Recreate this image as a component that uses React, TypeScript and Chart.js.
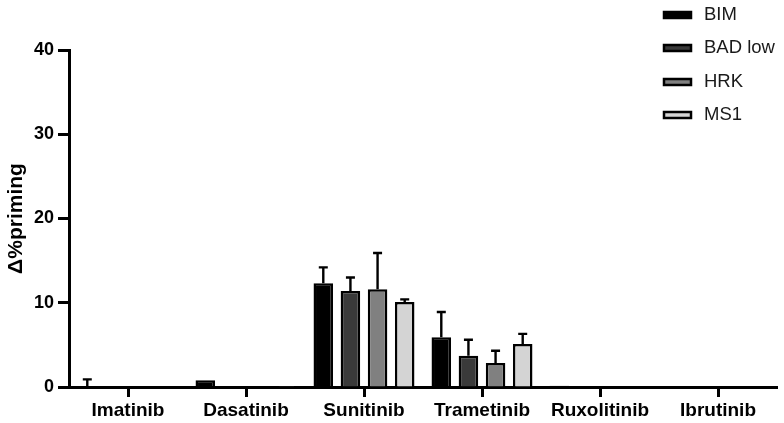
import React, { useEffect, useRef } from "react";
import { Chart, registerables } from "chart.js";

Chart.register(...registerables);

const categories = ["Imatinib", "Dasatinib", "Sunitinib", "Trametinib", "Ruxolitinib", "Ibrutinib"];
const seriesNames = ["BIM", "BAD low", "HRK", "MS1"];
const seriesColors = ["#000000", "#3a3a3a", "#808080", "#d4d4d4"];

const bimValues = [0, 0.8, 12.3, 5.9, 0.15, 0];
const badLowValues = [0, 0, 11.4, 3.7, 0, 0];
const hrkValues = [0, 0, 11.6, 2.85, 0, 0];
const ms1Values = [0, 0.1, 10.1, 5.1, 0, 0];

const bimErrors = [0.9, 0, 1.9, 3.0, 0, 0];
const badLowErrors = [0, 0, 1.6, 1.9, 0, 0];
const hrkErrors = [0, 0, 4.3, 1.45, 0, 0];
const ms1Errors = [0, 0, 0.3, 1.2, 0, 0];

const yTicks = [0, 10, 20, 30, 40];

const allValues = [bimValues, badLowValues, hrkValues, ms1Values];
const allErrors = [bimErrors, badLowErrors, hrkErrors, ms1Errors];

const FONT = "'Liberation Sans', Arial, sans-serif";

const errorBarPlugin = {
  id: "errorBars",
  afterDatasetsDraw(chart: any) {
    const ctx = chart.ctx;
    const yScale = chart.scales.y;
    ctx.save();
    ctx.strokeStyle = "#000";
    ctx.lineWidth = 2.4;
    chart.data.datasets.forEach((ds: any, i: number) => {
      const meta = chart.getDatasetMeta(i);
      const errs = allErrors[i];
      meta.data.forEach((bar: any, j: number) => {
        const e = errs[j];
        if (!e) return;
        const v = ds.data[j];
        const x = bar.x;
        const y0 = yScale.getPixelForValue(v);
        const y1 = yScale.getPixelForValue(v + e);
        const half = 4.5;
        ctx.beginPath();
        ctx.moveTo(x, y0);
        ctx.lineTo(x, y1);
        ctx.moveTo(x - half, y1);
        ctx.lineTo(x + half, y1);
        ctx.stroke();
      });
    });
    ctx.restore();
  },
};

const legendPlugin = {
  id: "customLegend",
  afterDraw(chart: any) {
    const ctx = chart.ctx;
    ctx.save();
    const boxX = 664;
    const boxW = 27;
    const boxH = 6;
    const rowYs = [15, 48, 82, 115];
    chart.data.datasets.forEach((ds: any, i: number) => {
      const cy = rowYs[i];
      ctx.fillStyle = ds.backgroundColor;
      ctx.fillRect(boxX, cy - boxH / 2, boxW, boxH);
      ctx.strokeStyle = "#000";
      ctx.lineWidth = 2.5;
      ctx.strokeRect(boxX, cy - boxH / 2, boxW, boxH);
      ctx.fillStyle = "#1a1a1a";
      ctx.font = `18.5px ${FONT}`;
      ctx.textBaseline = "middle";
      ctx.textAlign = "left";
      ctx.fillText(ds.label, 704, cy);
    });
    ctx.restore();
  },
};

export default function App() {
  const ref = useRef<HTMLCanvasElement>(null);
  useEffect(() => {
    if (!ref.current) return;
    const chart = new Chart(ref.current, {
      type: "bar",
      data: {
        labels: categories,
        datasets: seriesNames.map((name, i) => ({
          label: name,
          data: allValues[i],
          backgroundColor: seriesColors[i],
          borderColor: "#000",
          borderWidth: 2.5,
          borderSkipped: "start" as const,
          categoryPercentage: 0.92,
          barPercentage: 0.72,
        })),
      },
      options: {
        animation: false,
        responsive: false,
        maintainAspectRatio: false,
        layout: { padding: { top: 50, right: 7, left: 0, bottom: 0 } },
        plugins: {
          legend: { display: false },
          tooltip: { enabled: false },
        },
        scales: {
          x: {
            offset: true,
            grid: {
              display: true,
              drawOnChartArea: false,
              drawTicks: true,
              offset: false,
              tickLength: 10,
              tickWidth: 3,
              tickColor: "#000",
            },
            border: { display: true, color: "#000", width: 3 },
            ticks: {
              color: "#000",
              font: { family: FONT, size: 19, weight: "bold" },
              padding: 2,
              maxRotation: 0,
            },
            afterFit(scale: any) {
              scale.height = 36;
            },
          },
          y: {
            min: 0,
            max: 40,
            afterBuildTicks(scale: any) {
              scale.ticks = yTicks.map((v) => ({ value: v }));
            },
            grid: {
              display: true,
              drawOnChartArea: false,
              drawTicks: true,
              tickLength: 11,
              tickWidth: 3,
              tickColor: "#000",
            },
            border: { display: true, color: "#000", width: 3 },
            ticks: {
              color: "#000",
              font: { family: FONT, size: 18, weight: "bold" },
              padding: 4,
            },
            title: {
              display: true,
              text: "Δ%priming",
              color: "#000",
              font: { family: FONT, size: 21, weight: "bold" },
              padding: { top: 4, bottom: 0 },
            },
            afterFit(scale: any) {
              scale.width = 69;
            },
          },
        },
      },
      plugins: [errorBarPlugin, legendPlugin],
    });
    return () => chart.destroy();
  }, []);
  return (
    <div style={{ position: "fixed", left: 0, top: 0, width: 784, height: 423, background: "#fff" }}>
      <canvas ref={ref} width={784} height={423} style={{ width: 784, height: 423 }} />
    </div>
  );
}
